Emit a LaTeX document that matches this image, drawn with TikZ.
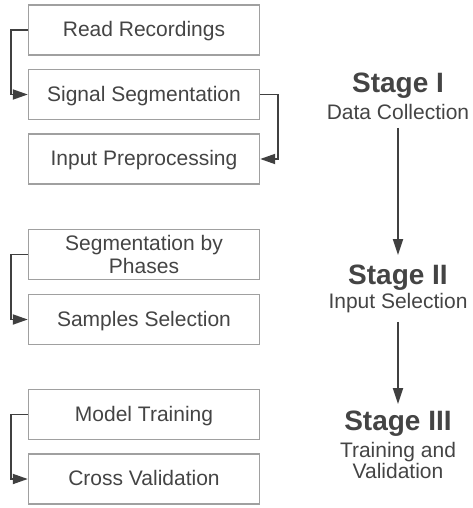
\documentclass[tikz,border=0pt]{standalone}
\usepackage{fontspec}
\setmainfont{Liberation Sans}
\usetikzlibrary{arrows.meta}
\definecolor{txt}{HTML}{444444}
\definecolor{boxc}{HTML}{A0A0A0}
\definecolor{linec}{HTML}{404040}
\tikzset{
  stepbox/.style={draw=boxc, line width=1.4pt, minimum width=231pt, minimum height=50pt,
    inner sep=0pt, align=center, text=txt, font=\fontsize{21}{23.5}\selectfont,
    text height=16pt, text depth=2.6pt},
  twolinebox/.style={draw=boxc, line width=1.4pt, minimum width=231pt, minimum height=50pt,
    inner sep=0pt, align=center, text=txt, font=\fontsize{21}{23.5}\selectfont},
  conn/.style={draw=linec, line width=1.8pt, -{Triangle[length=15pt,width=10pt]}},
  stagetitle/.style={inner sep=0pt, text=txt, font=\bfseries\fontsize{28}{30}\selectfont},
  stagesub/.style={inner sep=0pt, text=txt, align=center, font=\fontsize{21}{21}\selectfont},
  stagearrow/.style={draw=linec, line width=1.8pt, -{Triangle[length=16pt,width=10pt]}}
}
\begin{document}
\begin{tikzpicture}[x=1pt,y=-1pt]
\useasboundingbox (0,0) rectangle (473,508);
% Stage I boxes
\node[stepbox] (rr) at (144,30) {Read Recordings};
\node[stepbox] (ss) at (144,94.5) {Signal Segmentation};
\node[stepbox] (ip) at (144,159) {Input Preprocessing};
\draw[conn] (rr.west) -- ++(-17,0) |- (ss.west);
\draw[conn] (ss.east) -- ++(18,0) |- (ip.east);
% Stage II boxes
\node[twolinebox] (sp) at (144,254.5) {Segmentation by\\Phases};
\node[stepbox] (sm) at (144,319.5) {Samples Selection};
\draw[conn] (sp.west) -- ++(-17,0) |- (sm.west);
% Stage III boxes
\node[stepbox] (mt) at (144,414.5) {Model Training};
\node[stepbox] (cv) at (144,479) {Cross Validation};
\draw[conn] (mt.west) -- ++(-17,0) |- (cv.west);
% Stage labels
\node[stagetitle] (t1) at (398,86) {Stage I};
\node[stagesub] (d1) at (398,112) {Data Collection};
\node[stagetitle] (t2) at (398,278) {Stage II};
\node[stagesub] (d2) at (398,303) {Input Selection};
\node[stagetitle] (t3) at (398,424) {Stage III};
\node[stagesub] (d3) at (398,460) {Training and\\Validation};
\draw[stagearrow, shorten <=8pt, shorten >=10pt] (d1.south) -- (t2.north);
\draw[stagearrow, shorten <=9pt, shorten >=7pt] (d2.south) -- (t3.north);
\end{tikzpicture}
\end{document}
